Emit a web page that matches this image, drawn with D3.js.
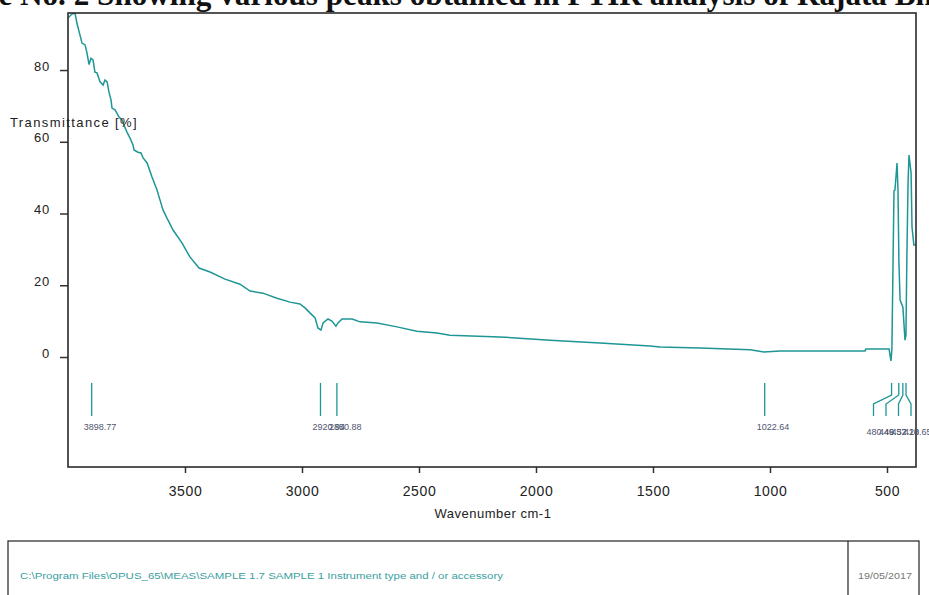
<!DOCTYPE html>
<html>
<head>
<meta charset="utf-8">
<script src="https://cdn.jsdelivr.net/npm/d3@7"></script>
<style>
  body { margin: 0; background: #fff; }
</style>
</head>
<body>
<div id="chart"></div>
<script>
// spectrum (wavenumber cm-1 / transmittance %)
const wavenumber = [4000, 3983, 3970, 3962, 3949, 3940, 3927, 3919, 3910, 3902, 3893, 3885, 3876, 3863,
  3850, 3842, 3833, 3825, 3816, 3812, 3799, 3791, 3782, 3769, 3761, 3748, 3735, 3722, 3718, 3701,
  3688, 3679, 3662, 3641, 3620, 3607, 3594, 3577, 3551, 3513, 3479, 3440, 3393, 3329, 3265, 3222,
  3167, 3107, 3051, 3009, 2987, 2966, 2944, 2932, 2919, 2910, 2889, 2872, 2855, 2846, 2829, 2786,
  2752, 2679, 2594, 2509, 2423, 2368, 2154, 1940, 1727, 1513, 1470, 1299, 1085, 1026, 957, 594,
  590, 491, 483, 479, 474, 470, 466, 457, 453, 449, 444, 432, 423, 419, 415, 410, 406, 397, 393,
  385, 376];
const transmittance = [94.5, 95.6, 95.9, 93.1, 89.8, 87.5, 87.0, 84.8, 81.5, 83.3, 82.8, 79.4, 79.2, 76.7,
  75.8, 77.2, 76.7, 73.9, 71.6, 69.4, 68.9, 68.0, 66.9, 66.1, 64.7, 62.7, 61.0, 59.1, 57.7, 57.1,
  56.9, 55.5, 54.1, 50.2, 46.6, 43.8, 41.0, 38.7, 35.4, 31.8, 27.9, 24.8, 23.7, 21.7, 20.3, 18.4,
  17.8, 16.4, 15.3, 14.8, 13.7, 12.3, 10.9, 8.1, 7.5, 9.5, 10.6, 10.0, 8.6, 9.5, 10.6, 10.6,
  9.8, 9.5, 8.4, 7.2, 6.7, 6.1, 5.6, 4.7, 3.9, 3.1, 2.8, 2.5, 2.0, 1.4, 1.7, 1.7,
  2.2, 2.2, -1.1, 2.2, 27.0, 46.3, 46.5, 54.1, 46.5, 26.5, 15.9, 13.9, 4.7, 6.1, 27.9, 48.5, 56.3, 51.3, 36.2,
  31.2, 31.2];

const peakWn = [3898.77, 2920.94, 2850.88, 1022.64, 480.46, 449.57, 432.20, 418.65];
const xTicks = [3500, 3000, 2500, 2000, 1500, 1000, 500];
const yTicks = [0, 20, 40, 60, 80];

const titleText = "Figure No. 2 Showing various peaks obtained in FTIR analysis of Rajata Bhasma";
const footerPath = "C:\\Program Files\\OPUS_65\\MEAS\\SAMPLE 1.7 SAMPLE 1 Instrument type and / or accessory";
const footerDate = "19/05/2017";

const W = 929, H = 595;
const LINE = "#1f9696";
const box = { left: 68, right: 916, top: 13, bottom: 467 };
const SANS = "'Liberation Sans', Arial, sans-serif";
const SERIF = "'Liberation Serif', 'Times New Roman', serif";

const svg = d3.select("#chart").append("svg")
  .attr("width", W)
  .attr("height", H)
  .style("font-family", SANS);

svg.append("rect").attr("width", W).attr("height", H).attr("fill", "#fff");

const x = d3.scaleLinear().domain([4000, 376]).range([box.left, box.right]);
const y = d3.scaleLinear().domain([-30.66, 95.9]).range([box.bottom, box.top]);

// title, cut at the top of the picture
const title = svg.append("text")
  .attr("y", 5)
  .style("font-family", SERIF)
  .attr("font-weight", "bold")
  .attr("font-size", 20)
  .attr("fill", "#111")
  .text(titleText);
// "e No. 2 ... Rajata Bh" should cover the full width
const tmp = svg.append("text").style("font-family", SERIF)
  .attr("font-weight", "bold").attr("font-size", 20);
const wPre = tmp.text("Figur").node().getComputedTextLength();
const wVis = tmp.text("e No. 2 Showing various peaks obtained in FTIR analysis of Rajata Bh").node().getComputedTextLength();
tmp.remove();
const k = 935 / wVis;
title.attr("font-size", 20 * k).attr("x", -wPre * k - 1);

// clip for the spectrum
svg.append("clipPath").attr("id", "plotclip")
  .append("rect")
  .attr("x", box.left).attr("y", box.top)
  .attr("width", box.right - box.left).attr("height", box.bottom - box.top);

const pts = wavenumber.map((w, i) => [w, transmittance[i]]);
const line = d3.line().x(d => x(d[0])).y(d => y(d[1]));

svg.append("path")
  .datum(pts)
  .attr("clip-path", "url(#plotclip)")
  .attr("fill", "none")
  .attr("stroke", LINE)
  .attr("stroke-width", 1.5)
  .attr("d", line);

// axes
const gx = svg.append("g")
  .attr("transform", `translate(0,${box.bottom})`)
  .call(d3.axisBottom(x).tickValues(xTicks).tickSize(6).tickSizeOuter(0).tickPadding(13)
    .tickFormat(d3.format("d")));
gx.select(".domain").remove();
gx.selectAll("line").attr("stroke", "#333").attr("stroke-width", 1.5);
gx.selectAll("text").attr("font-size", 14).attr("fill", "#222")
  .attr("letter-spacing", 0.6)
  .style("font-family", SANS);

const gy = svg.append("g")
  .attr("transform", `translate(${box.left},0)`)
  .call(d3.axisLeft(y).tickValues(yTicks).tickSize(8).tickSizeOuter(0).tickPadding(10));
gy.select(".domain").remove();
gy.selectAll("line").attr("stroke", "#333").attr("stroke-width", 1.5);
gy.selectAll("text").attr("font-size", 13).attr("fill", "#222").attr("dy", "0em")
  .attr("letter-spacing", 0.8)
  .style("font-family", SANS);

// frame
svg.append("rect")
  .attr("x", box.left).attr("y", box.top)
  .attr("width", box.right - box.left).attr("height", box.bottom - box.top)
  .attr("fill", "none")
  .attr("stroke", "#2a2a2a")
  .attr("stroke-width", 1.6);

// axis titles
svg.append("text")
  .attr("x", 10).attr("y", 127)
  .attr("font-size", 13)
  .attr("letter-spacing", 1.4)
  .attr("fill", "#222")
  .text("Transmittance [%]");

svg.append("text")
  .attr("x", 493).attr("y", 518)
  .attr("text-anchor", "middle")
  .attr("font-size", 13)
  .attr("letter-spacing", 0.5)
  .attr("fill", "#222")
  .text("Wavenumber cm-1");

// peak markers: group the crowded ones and fan them out
const peaks = peakWn.map(w => ({ w, px: x(w) }));
const groups = [];
peaks.forEach(p => {
  const g = groups[groups.length - 1];
  if (g && p.px - g[g.length - 1].px < 10) g.push(p);
  else groups.push([p]);
});

const markTop = 383, markBottom = 416;
const gm = svg.append("g");
groups.forEach(g => {
  if (g.length === 1) {
    const p = g[0];
    gm.append("line")
      .attr("x1", p.px).attr("x2", p.px)
      .attr("y1", markTop).attr("y2", markBottom)
      .attr("stroke", LINE).attr("stroke-width", 1.3);
    gm.append("text")
      .attr("x", p.px - 8).attr("y", 430)
      .attr("font-size", 9).attr("fill", "#4f5670")
      .text(p.w.toFixed(2));
  } else {
    const step = 12.5;
    const end = Math.min(g[g.length - 1].px + 5, box.right - 5);
    g.forEach((p, i) => {
      const bx = end - (g.length - 1 - i) * step;
      gm.append("path")
        .attr("d", `M${p.px},${markTop}V395L${bx},404V${markBottom}`)
        .attr("fill", "none")
        .attr("stroke", LINE).attr("stroke-width", 1.3);
      gm.append("text")
        .attr("x", bx - 7).attr("y", 435)
        .attr("font-size", 9).attr("fill", "#4f5670")
        .text(p.w.toFixed(2));
    });
  }
});

// footer box
svg.append("rect")
  .attr("x", 8).attr("y", 541)
  .attr("width", 911).attr("height", 70)
  .attr("fill", "none").attr("stroke", "#222").attr("stroke-width", 1.2);
svg.append("line")
  .attr("x1", 848).attr("x2", 848).attr("y1", 541).attr("y2", H)
  .attr("stroke", "#222").attr("stroke-width", 1.2);
svg.append("text")
  .attr("x", 20).attr("y", 579)
  .attr("font-size", 8.5)
  .attr("textLength", 483).attr("lengthAdjust", "spacingAndGlyphs")
  .attr("fill", "#3aa0a0")
  .text(footerPath);
svg.append("text")
  .attr("x", 858).attr("y", 579)
  .attr("font-size", 8.5)
  .attr("textLength", 54).attr("lengthAdjust", "spacingAndGlyphs")
  .attr("fill", "#777")
  .text(footerDate);
</script>
</body>
</html>
